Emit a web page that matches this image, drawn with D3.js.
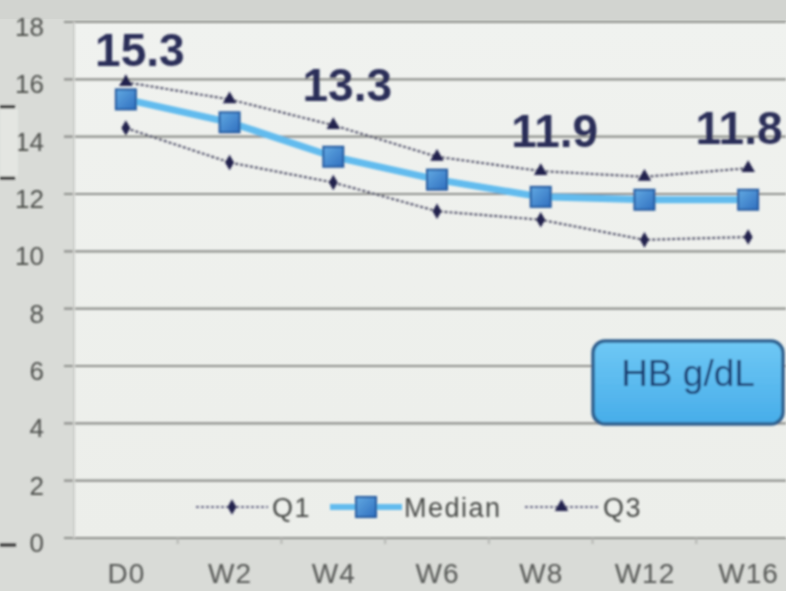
<!DOCTYPE html>
<html>
<head>
<meta charset="utf-8">
<script src="https://cdn.jsdelivr.net/npm/d3@7"></script>
<style>
  html, body { margin: 0; padding: 0; background: #d9dbd7; }
  svg { display: block; }
</style>
</head>
<body>
<svg id="chart" width="786" height="591"></svg>
<script>
// Haemoglobin (g/dL) over the visit schedule: quartiles and median
const visits = ["D0", "W2", "W4", "W6", "W8", "W12", "W16"];
const q1 = [14.3, 13.1, 12.4, 11.4, 11.1, 10.4, 10.5];
const median = [15.3, 14.5, 13.3, 12.5, 11.9, 11.8, 11.8];
const q3 = [15.9, 15.3, 14.4, 13.3, 12.8, 12.6, 12.9];
const yTicks = [0, 2, 4, 6, 8, 10, 12, 14, 16, 18];
const labelledVisits = ["D0", "W4", "W8", "W16"];
const legendNames = ["Q1", "Median", "Q3"];
const unitLabel = "HB g/dL";

const svg = d3.select("#chart");
const W = 786, H = 591;
const plot = { left: 74, right: 800, top: 22, bottom: 538 };
const font = "Liberation Sans, Arial, sans-serif";

const x = d3.scalePoint().domain(visits).range([plot.left, plot.right]).padding(0.5);
const step = x.step();
const y = d3.scaleLinear().domain([0, 18]).range([plot.bottom, plot.top]);

const defs = svg.append("defs");
const bg = defs.append("linearGradient").attr("id", "plotBg").attr("x1", 0).attr("x2", 0).attr("y1", 0).attr("y2", 1);
bg.append("stop").attr("offset", 0).attr("stop-color", "#f0f2ef");
bg.append("stop").attr("offset", 1).attr("stop-color", "#eceeea");
const boxGrad = defs.append("linearGradient").attr("id", "boxFill").attr("x1", 0).attr("x2", 0).attr("y1", 0).attr("y2", 1);
boxGrad.append("stop").attr("offset", 0).attr("stop-color", "#6fc8f5");
boxGrad.append("stop").attr("offset", 1).attr("stop-color", "#47ade9");
const sqGrad = defs.append("linearGradient").attr("id", "sqFill").attr("x1", 0).attr("x2", 1).attr("y1", 0).attr("y2", 1);
sqGrad.append("stop").attr("offset", 0).attr("stop-color", "#62a9e2");
sqGrad.append("stop").attr("offset", 1).attr("stop-color", "#2f6fbf");
defs.append("filter").attr("id", "softer").append("feGaussianBlur").attr("stdDeviation", 0.8);

// page background
svg.append("rect").attr("width", W).attr("height", H).attr("fill", "#d9dbd7");
svg.append("rect").attr("x", 0).attr("y", 0).attr("width", W).attr("height", 19).attr("fill", "#d2d4d0");

// plot area
svg.append("rect")
  .attr("x", plot.left).attr("y", plot.top)
  .attr("width", plot.right - plot.left).attr("height", plot.bottom - plot.top)
  .attr("fill", "url(#plotBg)");

const root = svg.append("g").attr("filter", "url(#softer)");

// horizontal gridlines (extend slightly left as tick marks)
root.append("g")
  .selectAll("line").data(yTicks).join("line")
  .attr("x1", plot.left - 10).attr("x2", W)
  .attr("y1", d => y(d)).attr("y2", d => y(d))
  .attr("stroke", "#8e908c").attr("stroke-width", 2.2);

// left axis line
root.append("line")
  .attr("x1", plot.left).attr("x2", plot.left)
  .attr("y1", plot.top).attr("y2", plot.bottom)
  .attr("stroke", "#cdcfcb").attr("stroke-width", 2);

// y tick labels
root.append("g")
  .selectAll("text").data(yTicks).join("text")
  .attr("x", 44).attr("y", d => y(d) + 14)
  .attr("text-anchor", "end")
  .attr("font-family", font)
  .attr("font-size", 26)
  .attr("fill", "#4f514e")
  .text(d => d);

// bottom axis using d3.axisBottom for the category labels
const xAxis = d3.axisBottom(x).tickSize(0).tickPadding(0);
const xg = root.append("g").attr("transform", `translate(0,${plot.bottom})`).call(xAxis);
xg.select(".domain").remove();
xg.selectAll("text")
  .attr("font-family", font)
  .attr("font-size", 28)
  .attr("letter-spacing", 1)
  .attr("fill", "#575956")
  .attr("dy", null)
  .attr("y", 45);
// small ticks between categories
root.append("g")
  .selectAll("line").data(visits.slice(1)).join("line")
  .attr("x1", d => x(d) - step / 2).attr("x2", d => x(d) - step / 2)
  .attr("y1", plot.bottom).attr("y2", plot.bottom + 6)
  .attr("stroke", "#b5b7b3").attr("stroke-width", 2);

// side marks on the slide edge
root.append("rect").attr("x", 0).attr("y", 109).attr("width", 18).attr("height", 67).attr("fill", "#e4e6e2");
root.append("line").attr("x1", 0).attr("x2", 15).attr("y1", 107).attr("y2", 107).attr("stroke", "#333").attr("stroke-width", 3);
root.append("line").attr("x1", 0).attr("x2", 15).attr("y1", 178).attr("y2", 178).attr("stroke", "#333").attr("stroke-width", 3);
root.append("line").attr("x1", 0).attr("x2", 16).attr("y1", 545).attr("y2", 545).attr("stroke", "#333").attr("stroke-width", 3);

// quartile lines
const line = d3.line().x((d, i) => x(visits[i])).y(d => y(d));
const quartileColor = "#55556c";
[q1, q3].forEach(series => {
  root.append("path")
    .attr("d", line(series))
    .attr("fill", "none")
    .attr("stroke", quartileColor)
    .attr("stroke-width", 2.2)
    .attr("stroke-dasharray", "3,2");
});

// median line
root.append("path")
  .attr("d", line(median))
  .attr("fill", "none")
  .attr("stroke", "#62bbee")
  .attr("stroke-width", 7);

const markerDark = "#23234e";
const diamond = d3.symbol().type(d3.symbolDiamond).size(70);
const triangle = d3.symbol().type(d3.symbolTriangle).size(80);

root.append("g").selectAll("path").data(q1).join("path")
  .attr("transform", (d, i) => `translate(${x(visits[i])},${y(d)})`)
  .attr("d", diamond).attr("fill", markerDark);

root.append("g").selectAll("path").data(q3).join("path")
  .attr("transform", (d, i) => `translate(${x(visits[i])},${y(d)})`)
  .attr("d", triangle).attr("fill", markerDark);

const sq = 20;
root.append("g").selectAll("rect").data(median).join("rect")
  .attr("x", (d, i) => x(visits[i]) - sq / 2)
  .attr("y", d => y(d) - sq / 2)
  .attr("width", sq).attr("height", sq)
  .attr("fill", "url(#sqFill)")
  .attr("stroke", "#24589e").attr("stroke-width", 2);

// median value labels, set above the Q3 marker and kept inside the frame
root.append("g").selectAll("text")
  .data(labelledVisits)
  .join("text")
  .attr("x", v => Math.min(x(v) + 14, W - 47))
  .attr("y", v => Math.max(y(q3[visits.indexOf(v)]) - 40, 50) + 16)
  .attr("text-anchor", "middle")
  .attr("font-family", font)
  .attr("font-weight", "bold")
  .attr("font-size", 46)
  .attr("fill", "#2b2e58")
  .text(v => median[visits.indexOf(v)].toFixed(1));

// legend
const legend = root.append("g").attr("transform", "translate(0,507)");
const legendItems = [
  { name: legendNames[0], x0: 196, x1: 268, kind: "q1", tx: 272 },
  { name: legendNames[1], x0: 330, x1: 402, kind: "med", tx: 404 },
  { name: legendNames[2], x0: 525, x1: 598, kind: "q3", tx: 603 }
];
legendItems.forEach(it => {
  const cx = (it.x0 + it.x1) / 2;
  if (it.kind === "med") {
    legend.append("line").attr("x1", it.x0).attr("x2", it.x1).attr("y1", 0).attr("y2", 0)
      .attr("stroke", "#62bbee").attr("stroke-width", 6);
    legend.append("rect").attr("x", cx - 10).attr("y", -10).attr("width", 20).attr("height", 20)
      .attr("fill", "url(#sqFill)").attr("stroke", "#24589e").attr("stroke-width", 2);
  } else {
    legend.append("line").attr("x1", it.x0).attr("x2", it.x1).attr("y1", 0).attr("y2", 0)
      .attr("stroke", "#6a6a88").attr("stroke-width", 2).attr("stroke-dasharray", "3,2");
    legend.append("path").attr("transform", `translate(${cx},0)`)
      .attr("d", it.kind === "q1" ? diamond : triangle).attr("fill", markerDark);
  }
  legend.append("text").attr("x", it.tx).attr("y", 10)
    .attr("font-family", font)
    .attr("font-size", 27)
    .attr("letter-spacing", 1.5)
    .attr("fill", "#4a4c49")
    .text(it.name);
});

// unit badge
const badge = root.append("g").attr("transform", "translate(593,341)");
badge.append("rect").attr("x", 0).attr("y", 0).attr("width", 190).attr("height", 83)
  .attr("rx", 12).attr("ry", 12)
  .attr("fill", "url(#boxFill)")
  .attr("stroke", "#2d5f8e").attr("stroke-width", 3.5);
badge.append("text").attr("x", 95).attr("y", 45)
  .attr("text-anchor", "middle")
  .attr("font-family", font)
  .attr("font-size", 37)
  .attr("fill", "#1d3f74")
  .text(unitLabel);
</script>
</body>
</html>
